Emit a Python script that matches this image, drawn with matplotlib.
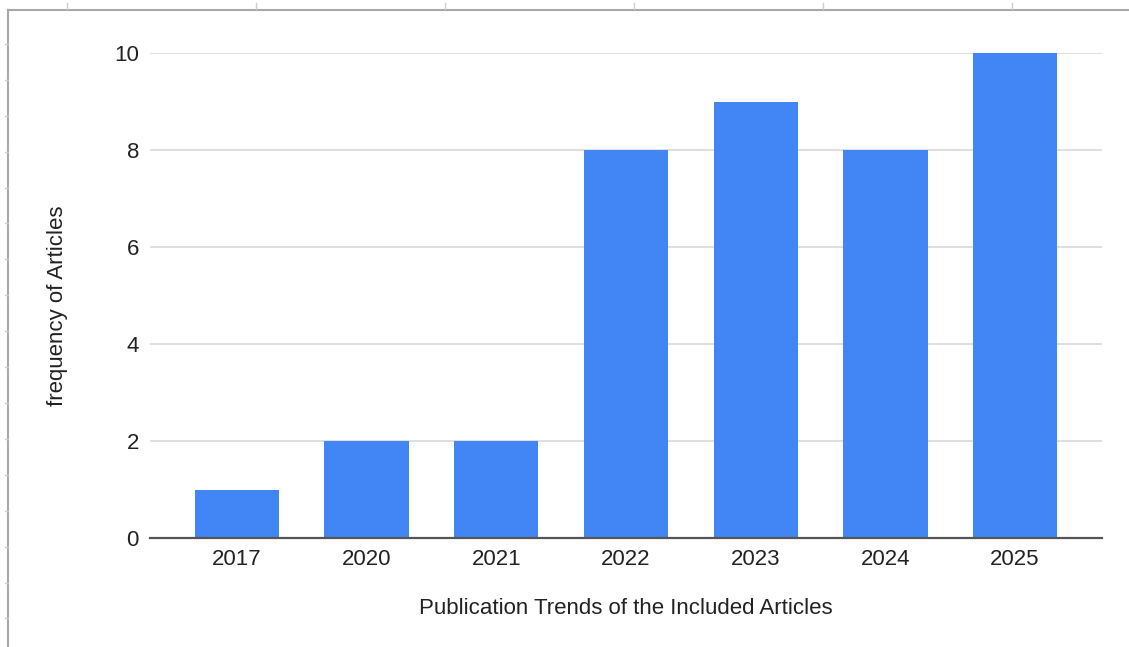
import matplotlib.pyplot as plt
from matplotlib.lines import Line2D

years = ["2017", "2020", "2021", "2022", "2023", "2024", "2025"]
counts = [1, 2, 2, 8, 9, 8, 10]
y_ticks = [0, 2, 4, 6, 8, 10]

plt.rcParams["font.family"] = ["Liberation Sans", "DejaVu Sans"]

W, H = 1129, 647
fig = plt.figure(figsize=(W / 100, H / 100), dpi=100)

# plot area in pixels: x 150..1102, y 53..538
ax = fig.add_axes([150 / W, 1 - 538 / H, (1102 - 150) / W, (538 - 53) / H])

x = range(len(years))
ax.bar(x, counts, width=0.65, color="#4285F4", zorder=3, clip_on=False)

ax.set_xlim(-0.67, len(years) - 1 + 0.67)
ax.set_ylim(0, 10)
ax.set_xticks(list(x))
ax.set_xticklabels(years)
ax.set_yticks(y_ticks)

ax.grid(axis="y", color="#dcdcdc", linewidth=1.3, zorder=0)
ax.grid(axis="x", visible=False)
for s in ["top", "right", "left"]:
    ax.spines[s].set_visible(False)
ax.spines["bottom"].set_color("#555555")
ax.spines["bottom"].set_linewidth(1.6)
ax.spines["bottom"].set_zorder(4)

fs = 16
ax.tick_params(axis="both", length=0, labelsize=fs, labelcolor="#222222")
ax.tick_params(axis="y", pad=8)
ax.tick_params(axis="x", pad=8)

ax.set_xlabel("Publication Trends of the Included Articles", fontsize=fs,
              color="#222222", va="center")
ax.xaxis.set_label_coords(0.5, (538 - 609) / 485)
ax.set_ylabel("frequency of Articles", fontsize=fs, color="#222222",
              va="center")
ax.yaxis.set_label_coords((57 - 150) / 952, (538 - 306) / 485)

# spreadsheet frame around the screenshot
frame = "#a8a8a8"
fig.add_artist(Line2D([8 / W, 1], [1 - 9.5 / H, 1 - 9.5 / H], color=frame,
                      linewidth=1.5, transform=fig.transFigure))
fig.add_artist(Line2D([8 / W, 8 / W], [0, 1 - 9.5 / H], color=frame,
                      linewidth=1.5, transform=fig.transFigure))
for i in range(6):
    px = 67 + 189 * i
    fig.add_artist(Line2D([px / W, px / W], [1 - 3 / H, 1 - 9 / H],
                          color="#cccccc", linewidth=1,
                          transform=fig.transFigure))
for i in range(17):
    py = 44 + 35.9 * i
    fig.add_artist(Line2D([5 / W, 8 / W], [1 - py / H, 1 - py / H],
                          color="#cccccc", linewidth=1,
                          transform=fig.transFigure))

fig.savefig("out.png", dpi=100)
